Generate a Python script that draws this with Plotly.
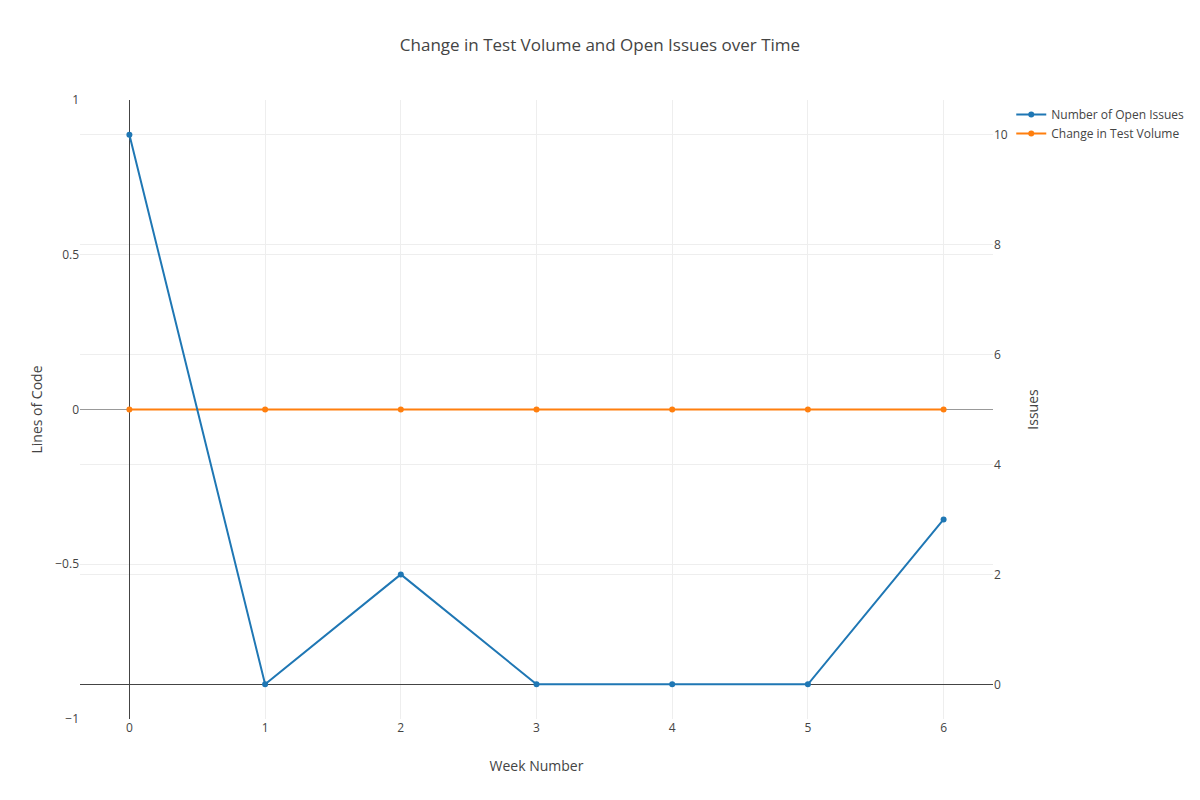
import plotly.graph_objects as go

weeks = [0, 1, 2, 3, 4, 5, 6]
open_issues = [10, 0, 2, 0, 0, 0, 3]
test_volume_change = [0, 0, 0, 0, 0, 0, 0]

fig = go.Figure()
fig.add_trace(go.Scatter(x=weeks, y=open_issues, name="Number of Open Issues",
                         mode="lines+markers", yaxis="y2",
                         line=dict(color="#1f77b4", width=2), marker=dict(size=6)))
fig.add_trace(go.Scatter(x=weeks, y=test_volume_change, name="Change in Test Volume",
                         mode="lines+markers", yaxis="y",
                         line=dict(color="#ff7f0e", width=2), marker=dict(size=6)))

fig.update_layout(
    template="none",
    width=1200, height=800,
    paper_bgcolor="white", plot_bgcolor="white",
    font=dict(family="Open Sans", color="#444", size=12),
    title=dict(text="Change in Test Volume and Open Issues over Time", x=0.4933, xanchor="center",
               y=0.961, font=dict(size=17)),
    margin=dict(l=72, r=215, t=92, b=89),
    xaxis=dict(title=dict(text="Week Number", font=dict(size=14)), showgrid=True, gridcolor="#eee",
               zeroline=True, zerolinecolor="#444", zerolinewidth=1, showline=False, ticks="",
               dtick=1),
    yaxis=dict(title=dict(text="Lines of Code", font=dict(size=14)), range=[-1, 1], dtick=0.5,
               showgrid=True, gridcolor="#eee", zeroline=True, zerolinecolor="#999",
               zerolinewidth=1, showline=False, ticks=""),
    yaxis2=dict(title=dict(text="Issues", font=dict(size=14)), overlaying="y", side="right",
                showgrid=True, gridcolor="#eee", zeroline=True, zerolinecolor="#444",
                zerolinewidth=1, showline=False, ticks="", dtick=2),
    legend=dict(x=1.02, y=1, xanchor="left", yanchor="top", traceorder="normal",
                bgcolor="rgba(0,0,0,0)"),
    showlegend=True,
)

fig.write_html("out.html")
